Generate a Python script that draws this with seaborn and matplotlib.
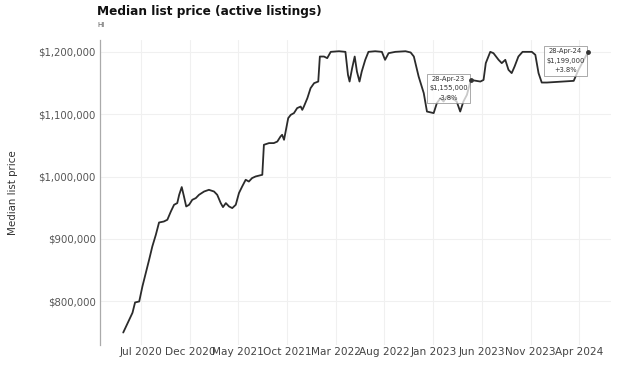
import matplotlib
matplotlib.use("Agg")
import matplotlib.pyplot as plt
import seaborn as sns
import pandas as pd
import numpy as np

# ---------------- data ----------------
dates = [
    "2020-05-06", "2020-06-04", "2020-06-12", "2020-06-25", "2020-07-05", "2020-07-26", "2020-08-05",
    "2020-08-16", "2020-08-26", "2020-09-10", "2020-09-21", "2020-10-02", "2020-10-12", "2020-10-22",
    "2020-10-28", "2020-11-05", "2020-11-12", "2020-11-19", "2020-11-28", "2020-12-08", "2020-12-19",
    "2020-12-29",
    "2021-01-14", "2021-01-29", "2021-02-14", "2021-02-24", "2021-03-07", "2021-03-14", "2021-03-23",
    "2021-04-02", "2021-04-12", "2021-04-23", "2021-05-03", "2021-05-13", "2021-05-24", "2021-06-03",
    "2021-06-13", "2021-06-24", "2021-07-15", "2021-07-20", "2021-08-05", "2021-08-20", "2021-08-31",
    "2021-09-10", "2021-09-15", "2021-09-21", "2021-09-26", "2021-10-04", "2021-10-12", "2021-10-22",
    "2021-11-01", "2021-11-12", "2021-11-17", "2021-11-22", "2021-12-03", "2021-12-13", "2021-12-24",
    "2022-01-06", "2022-01-11", "2022-01-24", "2022-02-03", "2022-02-14", "2022-03-12", "2022-04-01",
    "2022-04-09", "2022-04-14", "2022-04-22", "2022-04-30", "2022-05-07", "2022-05-15", "2022-05-22",
    "2022-06-02", "2022-06-12", "2022-07-03", "2022-07-24", "2022-08-03", "2022-08-14", "2022-09-04",
    "2022-10-06", "2022-10-22", "2022-11-01", "2022-11-16", "2022-12-02", "2022-12-12",
    "2023-01-02", "2023-01-12", "2023-01-23", "2023-02-02", "2023-02-12", "2023-02-28", "2023-03-15",
    "2023-03-26", "2023-04-05", "2023-04-16", "2023-04-28", "2023-05-28", "2023-06-07", "2023-06-14",
    "2023-06-28", "2023-07-08", "2023-07-24", "2023-08-03", "2023-08-14", "2023-08-24", "2023-09-03",
    "2023-09-12", "2023-09-24", "2023-10-07", "2023-11-05", "2023-11-16", "2023-11-26", "2023-12-06",
    "2023-12-22",
    "2024-03-15", "2024-03-30", "2024-04-28",
]

median_list_price = [
    750000, 781700, 798200, 799800, 823900, 866700, 888000, 906700, 926400, 928000, 930800, 944100,
    954800, 957500, 970800, 983200, 968100, 952100, 954800, 962800, 965500, 970800,
    976100, 978800, 976100, 970800, 957500, 951100, 957500, 952100, 949500, 954800,
    973600, 984100, 994900, 992100, 997600, 1000200, 1002900, 1051000, 1053700, 1053700,
    1056200, 1064300, 1067000, 1059000, 1072300, 1093700, 1099000, 1101800, 1109800, 1112300,
    1107000, 1112300, 1125800, 1141800, 1149800,
    1152400, 1192500, 1192500, 1189900, 1200000, 1201000, 1200000, 1163100, 1152400, 1173900,
    1192500, 1168400, 1152400, 1168400, 1187200, 1200000, 1201000, 1200000, 1187200, 1197900,
    1200000, 1201000, 1199000, 1192500, 1160400, 1133800, 1104300,
    1101800, 1117800, 1125800, 1120400, 1128400, 1125800, 1120400, 1104300, 1120400, 1131100,
    1155000, 1152400, 1155000, 1181900, 1200000, 1197900, 1187200, 1181900, 1187200, 1171200,
    1165900, 1176400, 1192500, 1200000, 1200000, 1195200, 1165900, 1150800, 1150800,
    1153500, 1171200, 1199000,
]

tick_dates = ["2020-07-01", "2020-12-01", "2021-05-01", "2021-10-01", "2022-03-01",
              "2022-08-01", "2023-01-01", "2023-06-01", "2023-11-01", "2024-04-01"]
tick_labels = ["Jul 2020", "Dec 2020", "May 2021", "Oct 2021", "Mar 2022",
               "Aug 2022", "Jan 2023", "Jun 2023", "Nov 2023", "Apr 2024"]

ytick_values = [800000, 900000, 1000000, 1100000, 1200000]
ytick_labels = ["$800,000", "$900,000", "$1,000,000", "$1,100,000", "$1,200,000"]

annot_dates = ["2023-04-28", "2024-04-28"]
annot_values = [1155000, 1199000]
annot_texts = ["28-Apr-23\n$1,155,000\n-3.8%", "28-Apr-24\n$1,199,000\n+3.8%"]

title = "Median list price (active listings)"
subtitle = "HI"
ylabel = "Median list price"

# ---------------- plot ----------------
sns.set_theme(style="whitegrid")
plt.rcParams["font.family"] = ["DejaVu Sans"]

df = pd.DataFrame({"date": pd.to_datetime(dates), "price": median_list_price})

fig = plt.figure(figsize=(6.21, 3.65), dpi=100)
ax = fig.add_axes([100 / 621, 20 / 365, 511 / 621, 305 / 365])

sns.lineplot(data=df, x="date", y="price", ax=ax, color="#2b2b2b", linewidth=1.3, zorder=3)

ax.set_ylim(730000, 1219000)
ax.set_yticks(ytick_values)
ax.set_yticklabels(ytick_labels)
ax.set_xticks(pd.to_datetime(tick_dates))
ax.set_xticklabels(tick_labels)

ax.tick_params(axis="x", labelsize=7.6, colors="#444444", pad=1.5, length=0)
ax.tick_params(axis="y", labelsize=7.3, colors="#555555", pad=3, length=0)

ax.grid(True, color="#f0f0f0", linewidth=0.8)
for side in ["top", "right", "bottom"]:
    ax.spines[side].set_visible(False)
ax.spines["left"].set_color("#aaaaaa")
ax.spines["left"].set_linewidth(0.9)

ax.set_xlabel("")
ax.set_ylabel(ylabel, fontsize=7.4, color="#333333")
ax.yaxis.set_label_coords(-0.16, 0.5)

fig.text(97 / 621, 1 - 12 / 365, title, fontsize=8.7, fontweight="bold",
         color="#111111", va="center", ha="left")
fig.text(97 / 621, 1 - 25 / 365, subtitle, fontsize=5, color="#555555",
         va="center", ha="left")

adates = pd.to_datetime(annot_dates)
ax.scatter(adates, annot_values, s=6, color="#333333", zorder=5)
for d, v, t in zip(adates, annot_values, annot_texts):
    ax.annotate(t, xy=(d, v), xytext=(-3, 4), textcoords="offset pixels",
                ha="right", va="top", fontsize=4.9, color="#333333",
                multialignment="center", linespacing=1.7, zorder=4,
                bbox=dict(boxstyle="square,pad=0.3", fc=(1, 1, 1, 0.75), ec="#888888", lw=0.5))

fig.savefig("out.png", dpi=100)
